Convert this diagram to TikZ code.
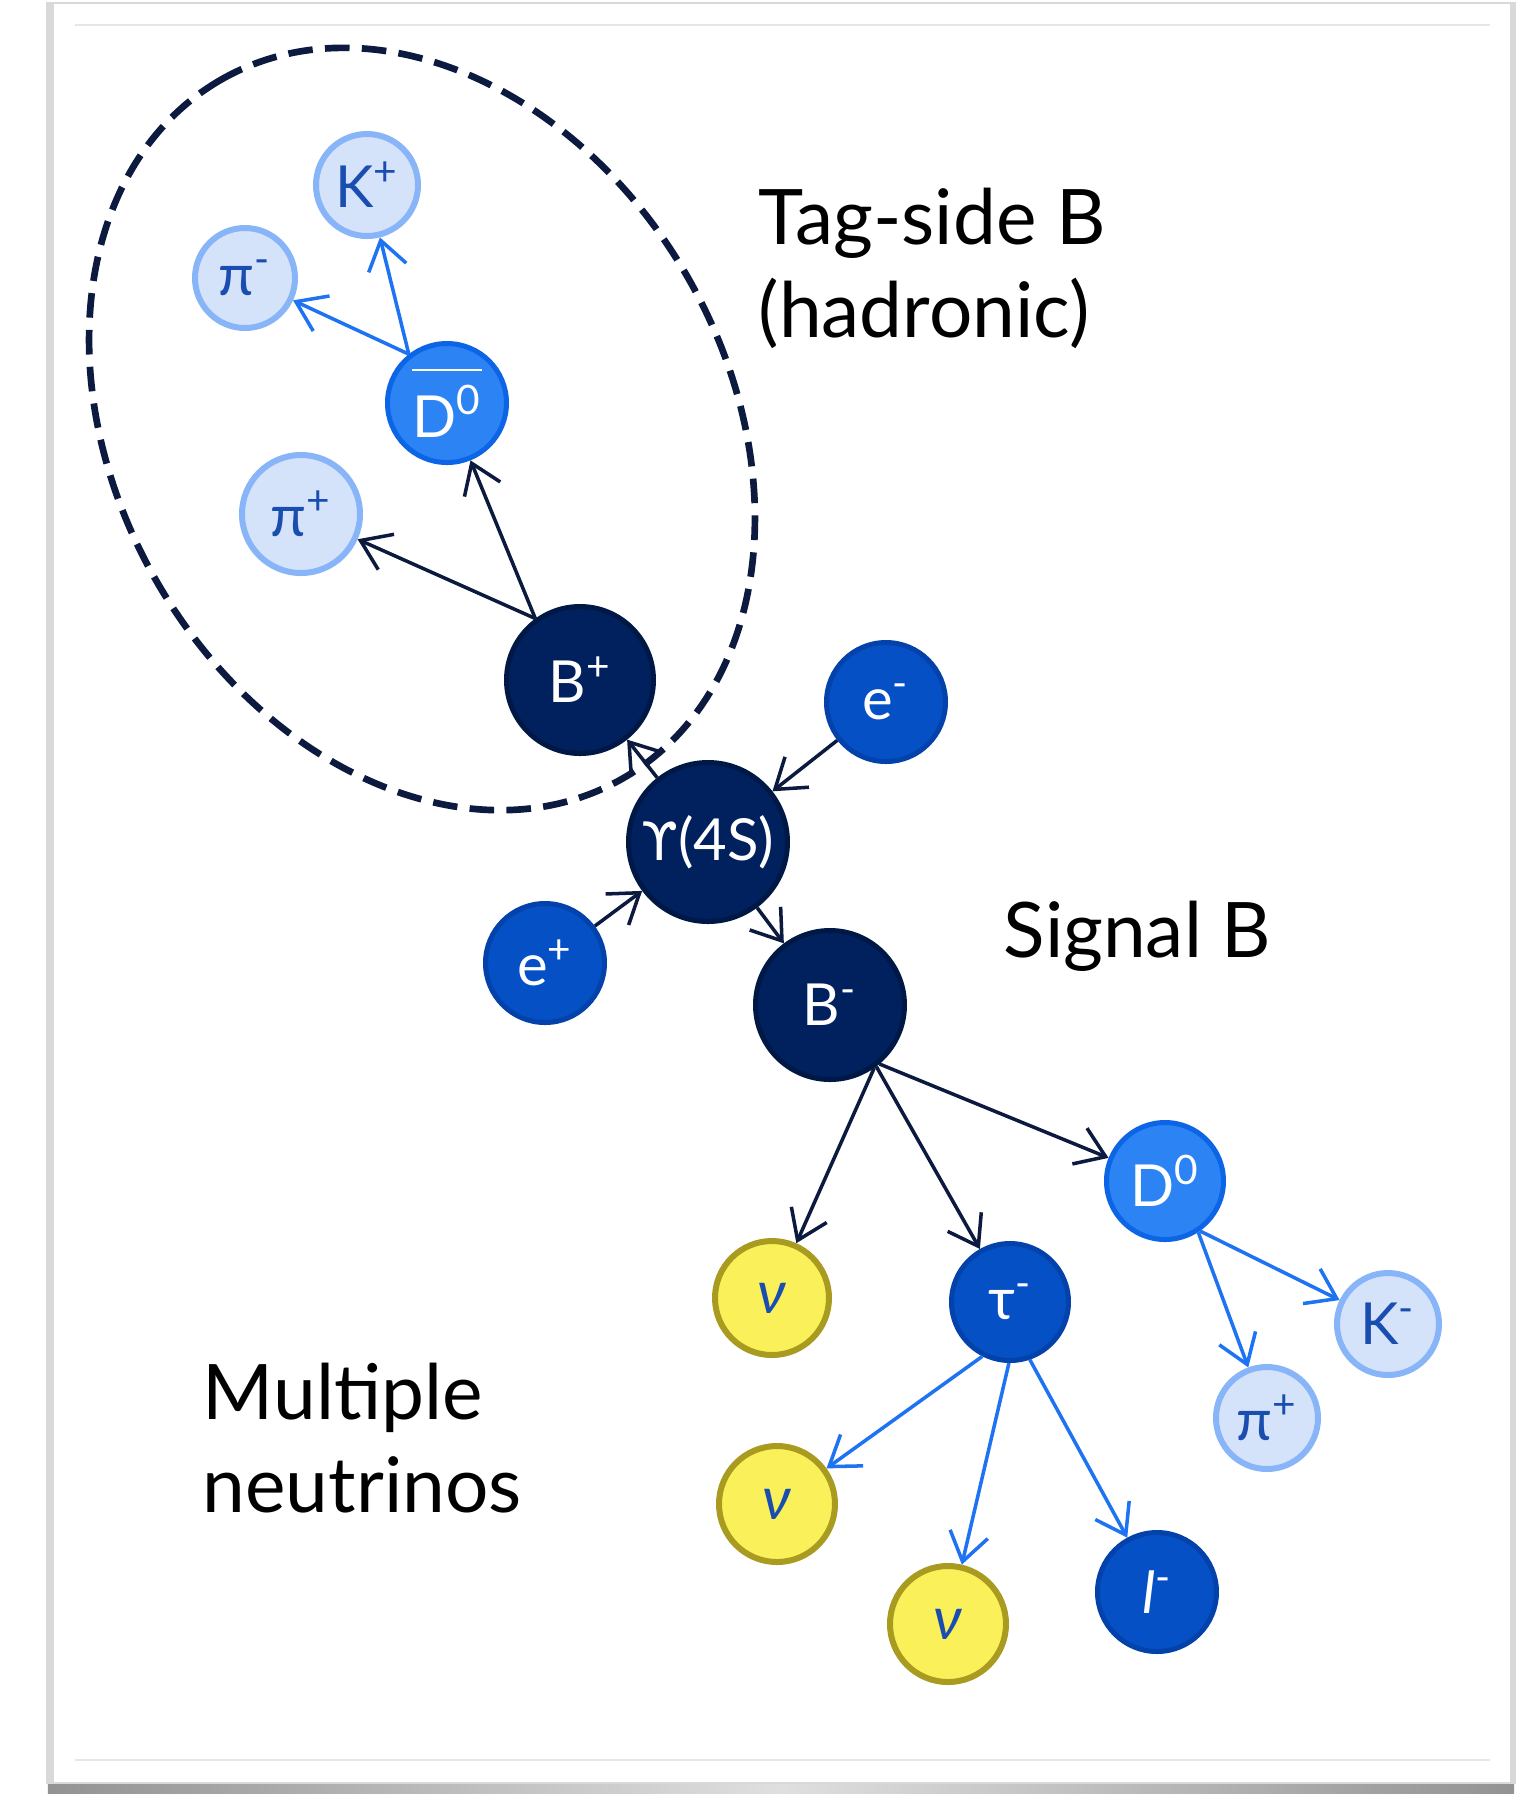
\documentclass[tikz,border=0pt]{standalone}
\usepackage{fontspec}
\setmainfont{Lato}
\newfontfamily\greekfont{DejaVu Sans}
\usepackage{xcolor}
\usepackage{tikz}
\usetikzlibrary{arrows.meta}
\definecolor{navy}{RGB}{0,33,94}
\definecolor{navyedge}{RGB}{0,24,70}
\definecolor{lepblue}{RGB}{4,80,196}
\definecolor{lepedge}{RGB}{3,66,170}
\definecolor{dblue}{RGB}{44,132,244}
\definecolor{dedge}{RGB}{12,100,230}
\definecolor{lightfill}{RGB}{212,226,250}
\definecolor{lightedge}{RGB}{136,180,248}
\definecolor{nufill}{RGB}{249,240,90}
\definecolor{nuedge}{RGB}{169,155,31}
\definecolor{labelblue}{RGB}{26,77,176}
\definecolor{arrowdark}{RGB}{11,26,62}
\definecolor{arrowblue}{RGB}{30,115,242}
\definecolor{cardline}{RGB}{230,230,230}
\newcommand{\antiDzero}{%
  \setbox0\hbox{D\textsuperscript{0}}%
  \rlap{\raisebox{\dimexpr\ht0+4pt}{\rule{\wd0}{0.7pt}}}\box0}

\begin{document}
\begin{tikzpicture}[
    bmeson/.style={circle, fill=navy, draw=navyedge, line width=0.05cm,
      text=white, inner sep=0pt, font=\fontsize{16.5}{18}\selectfont},
    lepnode/.style={circle, fill=lepblue, draw=lepedge, line width=0.05cm,
      text=white, inner sep=0pt, font=\fontsize{16.5}{18}\selectfont},
    dmeson/.style={circle, fill=dblue, draw=dedge, line width=0.05cm,
      text=white, inner sep=0pt, font=\fontsize{16.5}{18}\selectfont},
    lightmeson/.style={circle, fill=lightfill, draw=lightedge, line width=0.06cm,
      text=labelblue, inner sep=0pt, font=\fontsize{16.5}{18}\selectfont},
    nunode/.style={circle, fill=nufill, draw=nuedge, line width=0.06cm,
      text=labelblue, inner sep=0pt, font=\fontsize{17}{18}\selectfont\itshape},
    decay/.style={draw=arrowdark, line width=1pt,
      -{Straight Barb[length=8pt,width=11pt]}},
    subdecay/.style={draw=arrowblue, line width=1pt,
      -{Straight Barb[length=8pt,width=11pt]}},
    caption/.style={anchor=north west, inner sep=0pt, align=left,
      font=\fontsize{21.8}{26.5}\selectfont}
  ]
  \useasboundingbox (0,0) rectangle (15.36,-17.94);
  % card with shadow
  \fill[left color=gray!85, right color=gray!85, middle color=gray!25]
    (0.48,-17.70) rectangle (15.14,-17.94);
  \fill[gray!30] (0.46,-0.02) rectangle (15.16,-17.84);
  \fill[white] (0.54,-0.04) rectangle (15.10,-17.82);
  \draw[cardline, line width=0.6pt] (0.75,-0.25) -- (14.90,-0.25);
  \draw[cardline, line width=0.6pt] (0.75,-17.60) -- (14.90,-17.60);

  % Tag-side region
  \draw[arrowdark, line width=1.9pt, dash pattern=on 7pt off 3.5pt,
    rotate around={120:(4.22,-4.29)}]
    (4.22,-4.29) ellipse [x radius=4.03, y radius=3.06];

  % Labels
  \node[caption] (tagtext) at (7.58,-1.87) {Tag-side B\\(hadronic)};
  \node[caption] (sigtext) at (10.03,-9.00) {Signal B};
  \node[caption] (multitext) at (2.02,-13.62) {Multiple\\neutrinos};

  % particles
  \node[bmeson, minimum size=1.59cm] (Ups) at (7.08,-8.42)
    {{\greekfont\fontsize{15}{18}\selectfont ϒ}(4S)};
  \node[lepnode, minimum size=1.19cm] (eminus) at (8.86,-7.02) {e\textsuperscript{-}};
  \node[lepnode, minimum size=1.19cm] (eplus) at (5.45,-9.63) {e\textsuperscript{+}};
  \node[bmeson, minimum size=1.47cm] (Bplus) at (5.80,-6.80) {B\textsuperscript{+}};
  \node[bmeson, minimum size=1.49cm] (Bminus) at (8.30,-10.05) {B\textsuperscript{-}};
  % tag side
  \node[dmeson, minimum size=1.19cm] (Dbar) at (4.47,-4.03) {\antiDzero};
  \node[lightmeson, minimum size=1.18cm] (piplus) at (3.01,-5.14) {π\textsuperscript{+}};
  \node[lightmeson, minimum size=1.02cm] (Kplus) at (3.67,-1.85) {K\textsuperscript{+}};
  \node[lightmeson, minimum size=1.00cm] (piminus) at (2.45,-2.78) {π\textsuperscript{-}};
  % signal side
  \node[dmeson, minimum size=1.17cm] (Dzero) at (11.65,-11.81) {D\textsuperscript{0}};
  \node[nunode, minimum size=1.14cm] (nuB) at (7.72,-12.98) {ν};
  \node[lepnode, minimum size=1.17cm] (tau) at (10.10,-13.02) {τ\textsuperscript{-}};
  \node[lightmeson, minimum size=1.02cm] (Kminus) at (13.88,-13.24) {K\textsuperscript{-}};
  \node[lightmeson, minimum size=1.02cm] (pisig) at (12.67,-14.18) {π\textsuperscript{+}};
  \node[nunode, minimum size=1.16cm] (nuA) at (7.77,-15.04) {ν};
  \node[nunode, minimum size=1.16cm] (nuC) at (9.48,-16.24) {ν};
  \node[lepnode, minimum size=1.19cm] (lep) at (11.57,-15.92) {\textit{l}\textsuperscript{-}};

  % collision
  \draw[decay] (eminus) -- (Ups);
  \draw[decay] (eplus) -- (Ups);
  \draw[decay] (Ups) -- (Bplus);
  \draw[decay] (Ups) -- (Bminus);
  % tag-side decays
  \draw[decay] (Bplus.126) -- (Dbar);
  \draw[decay] (Bplus.126) -- (piplus);
  \draw[subdecay] (Dbar.128) -- (Kplus);
  \draw[subdecay] (Dbar.128) -- (piminus);
  % signal decays
  \draw[decay] (Bminus.-55) -- (nuB);
  \draw[decay] (Bminus.-53) -- (tau);
  \draw[decay] (Bminus.-50) -- (Dzero);
  \draw[subdecay] (tau.-117) -- (nuA);
  \draw[subdecay] (tau.-91) -- (nuC);
  \draw[subdecay] (tau.-71) -- (lep);
  \draw[subdecay] (Dzero.-55) -- (Kminus);
  \draw[subdecay] (Dzero.-57) -- (pisig);
\end{tikzpicture}
\end{document}
